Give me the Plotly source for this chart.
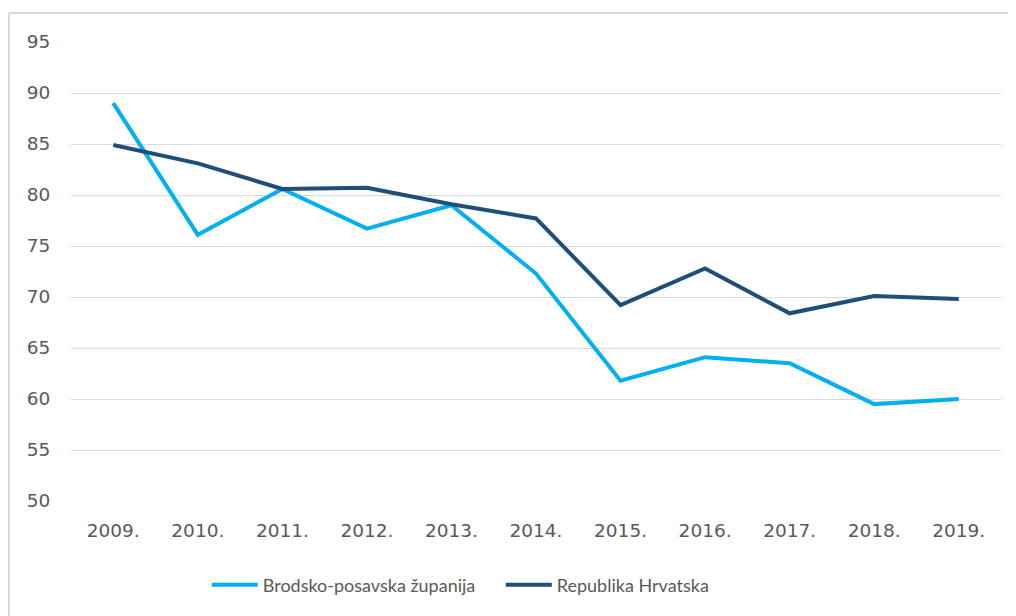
import plotly.graph_objects as go

years = ["2009.", "2010.", "2011.", "2012.", "2013.", "2014.", "2015.", "2016.", "2017.", "2018.", "2019."]
brodsko = [89.0, 76.1, 80.6, 76.7, 79.0, 72.3, 61.8, 64.1, 63.5, 59.5, 60.0]
hrvatska = [84.9, 83.1, 80.6, 80.7, 79.1, 77.7, 69.2, 72.8, 68.4, 70.1, 69.8]
y_ticks = [50, 55, 60, 65, 70, 75, 80, 85, 90, 95]

TICK_FONT = "DejaVu Sans"
LEG_FONT = "Lato"
GRAY = "#595959"
FS = 18.5

fig = go.Figure()
fig.add_trace(go.Scatter(x=years, y=brodsko, mode="lines", name="Brodsko-posavska županija",
                         line=dict(color="#00B0F0", width=4)))
fig.add_trace(go.Scatter(x=years, y=hrvatska, mode="lines", name="Republika Hrvatska",
                         line=dict(color="#1F4E79", width=4)))

fig.update_layout(
    width=1008, height=608,
    margin=dict(l=63, r=15, t=34, b=115, autoexpand=False),
    paper_bgcolor="white", plot_bgcolor="white",
    font=dict(family=TICK_FONT, size=FS, color=GRAY),
    showlegend=True,
    legend=dict(orientation="h", x=0.146, xanchor="left", y=-0.183, yanchor="middle",
                font=dict(family=LEG_FONT, size=18, color=GRAY), itemwidth=46,
                entrywidth=233, entrywidthmode="pixels",
                traceorder="normal"),
    xaxis=dict(type="category", range=[-0.5, 10.5], showgrid=False, zeroline=False,
               showline=False, ticks="outside", ticklen=0, ticklabelstandoff=13,
               automargin=False,
               tickfont=dict(family=TICK_FONT, size=FS, color=GRAY)),
    yaxis=dict(range=[50, 95], tickvals=y_ticks, showgrid=True, gridcolor="#d9d9d9",
               gridwidth=1, zeroline=False, showline=False, ticks="outside", ticklen=0,
               automargin=False,
               ticklabelstandoff=16, tickfont=dict(family=TICK_FONT, size=FS, color=GRAY)),
    shapes=[
        dict(type="line", xref="paper", yref="paper", x0=-0.0667, x1=1.016,
             y0=1.0632, y1=1.0632, line=dict(color="#d9d9d9", width=2), layer="below"),
        dict(type="line", xref="paper", yref="paper", x0=-0.0667, x1=-0.0667,
             y0=-0.25, y1=1.0632, line=dict(color="#d9d9d9", width=2), layer="below"),
    ],
)

fig.write_html("out.html")
